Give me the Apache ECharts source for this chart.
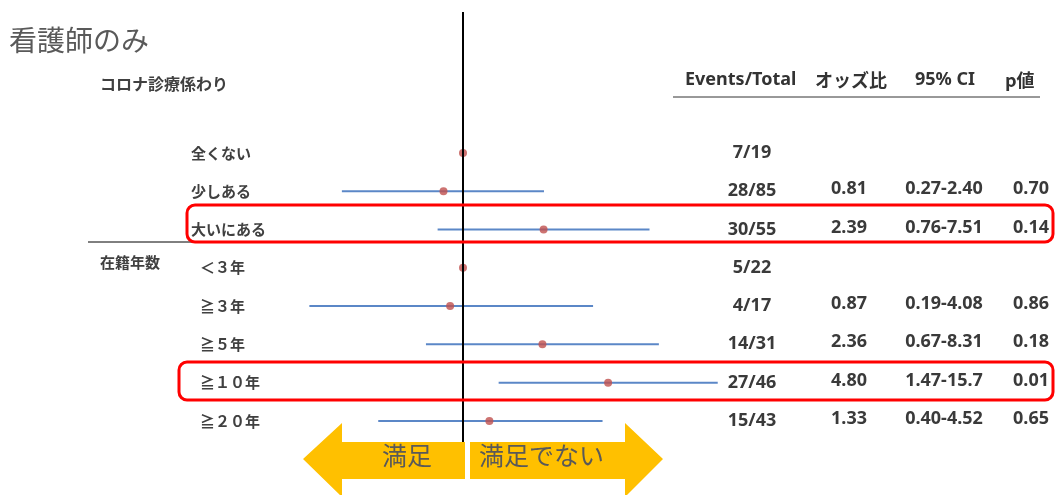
<!DOCTYPE html>
<html>
<head>
<meta charset="utf-8">
<script src="https://cdn.jsdelivr.net/npm/echarts@6/dist/echarts.min.js"></script>
<style>
  html, body { margin: 0; padding: 0; background: #fff; }
  #chart { width: 1056px; height: 495px; }
</style>
</head>
<body>
<div id="chart"></div>
<script>
// rows, top to bottom
var labels = ['全くない', '少しある', '大いにある', '＜３年', '≧３年', '≧５年', '≧１０年', '≧２０年'];
var labelIndent = [0, 0, 0, 9, 9, 9, 9, 9];
var events = ['7/19', '28/85', '30/55', '5/22', '4/17', '14/31', '27/46', '15/43'];
var oddsRatio = [1, 0.81, 2.39, 1, 0.87, 2.36, 4.80, 1.33];
var ciLow = [null, 0.27, 0.76, null, 0.19, 0.67, 1.47, 0.40];
var ciHigh = [null, 2.40, 7.51, null, 4.08, 8.31, 15.7, 4.52];
var orText = ['', '0.81', '2.39', '', '0.87', '2.36', '4.80', '1.33'];
var ciText = ['', '0.27-2.40', '0.76-7.51', '', '0.19-4.08', '0.67-8.31', '1.47-15.7', '0.40-4.52'];
var pText = ['', '0.70', '0.14', '', '0.86', '0.18', '0.01', '0.65'];

var FONT = '"Noto Sans CJK JP", "Noto Sans", sans-serif';
var NUMFONT = '"Noto Sans", "Noto Sans CJK JP", sans-serif';

var chart = echarts.init(document.getElementById('chart'));

var ciData = [], pointData = [], rowData = [];
for (var i = 0; i < labels.length; i++) {
  if (ciLow[i] != null) ciData.push([ciLow[i], ciHigh[i], i]);
  pointData.push([oddsRatio[i], i]);
  rowData.push([1, i]);
}

function txt(x, y, s, opt) {
  return {
    type: 'text',
    style: Object.assign({
      x: x, y: y, text: s, font: 'bold 18px ' + NUMFONT,
      fill: '#3a3a3a', textAlign: 'center', textVerticalAlign: 'middle'
    }, opt || {})
  };
}

var option = {
  animation: false,
  grid: { left: 250, right: 167, top: 12, bottom: 53 },
  xAxis: { type: 'log', logBase: 10, min: 0.1, max: 100, show: false },
  yAxis: { type: 'value', min: -3.68, max: 7.55, inverse: true, show: false },
  series: [
    {
      type: 'custom',
      name: 'CI',
      data: ciData,
      renderItem: function (params, api) {
        var a = api.coord([api.value(0), api.value(2)]);
        var b = api.coord([api.value(1), api.value(2)]);
        return {
          type: 'line',
          shape: { x1: a[0], y1: a[1], x2: b[0], y2: b[1] },
          style: { stroke: '#5B87C7', lineWidth: 2 }
        };
      },
      z: 2
    },
    {
      type: 'scatter',
      name: 'OR',
      data: pointData,
      symbolSize: 8,
      itemStyle: { color: '#C0504D' },
      z: 3,
      markLine: {
        silent: true,
        symbol: 'none',
        label: { show: false },
        lineStyle: { color: '#000', width: 2, type: 'solid' },
        data: [{ xAxis: 1 }]
      }
    },
    {
      type: 'custom',
      name: 'table',
      data: rowData,
      clip: false,
      renderItem: function (params, api) {
        var i = api.value(1);
        var y = api.coord([1, i])[1];
        return {
          type: 'group',
          children: [
            txt(191 + labelIndent[i], y, labels[i], { textAlign: 'left', font: 'bold 15px ' + FONT, fill: '#404040' }),
            txt(752, y, events[i]),
            txt(849, y - 2, orText[i]),
            txt(944, y - 2, ciText[i]),
            txt(1031, y - 2, pText[i])
          ]
        };
      },
      z: 4
    }
  ],
  graphic: [
    { type: 'text', left: 9, top: 26, style: { text: '看護師のみ', font: '28px ' + FONT, fill: '#595959' } },
    { type: 'text', left: 100, top: 76, style: { text: 'コロナ診療係わり', font: 'bold 16px ' + FONT, fill: '#404040' } },
    { type: 'text', left: 100, top: 255, style: { text: '在籍年数', font: 'bold 15px ' + FONT, fill: '#404040' } },
    { type: 'text', left: 685, top: 71, style: { text: 'Events/Total', font: 'bold 18px ' + NUMFONT, fill: '#333' } },
    { type: 'text', left: 815, top: 71, style: { text: 'オッズ比', font: 'bold 18px ' + FONT, fill: '#333' } },
    { type: 'text', left: 915, top: 71, style: { text: '95% CI', font: 'bold 18px ' + NUMFONT, fill: '#333' } },
    { type: 'text', left: 1005, top: 71, style: { text: 'p値', font: 'bold 18px ' + FONT, fill: '#333' } },
    { type: 'line', shape: { x1: 673, y1: 97, x2: 1040, y2: 97 }, style: { stroke: '#333', lineWidth: 1 } },
    { type: 'line', shape: { x1: 88, y1: 242, x2: 463, y2: 242 }, style: { stroke: '#000', lineWidth: 1 } },
    { type: 'rect', shape: { x: 187, y: 205, width: 866, height: 37, r: 8 }, style: { fill: 'none', stroke: '#FF0000', lineWidth: 3 }, z: 10 },
    { type: 'rect', shape: { x: 179, y: 362, width: 874, height: 38, r: 8 }, style: { fill: 'none', stroke: '#FF0000', lineWidth: 3 }, z: 10 },
    {
      type: 'polygon',
      shape: { points: [[303, 459], [342, 423], [342, 442], [465, 442], [465, 479], [342, 479], [342, 497]] },
      style: { fill: '#FFC000' }, z: 5
    },
    {
      type: 'polygon',
      shape: { points: [[470, 442], [625, 442], [625, 423], [663, 459], [625, 497], [625, 479], [470, 479]] },
      style: { fill: '#FFC000' }, z: 5
    },
    { type: 'text', left: 382, top: 443, style: { text: '満足', font: '25px ' + FONT, fill: '#595959' }, z: 6 },
    { type: 'text', left: 479, top: 443, style: { text: '満足でない', font: '25px ' + FONT, fill: '#595959' }, z: 6 }
  ]
};

chart.setOption(option);
</script>
</body>
</html>
